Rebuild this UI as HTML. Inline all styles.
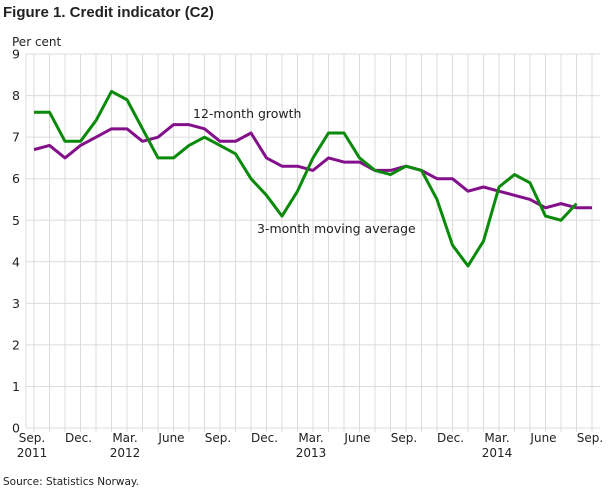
<!DOCTYPE html>
<html><head><meta charset="utf-8"><style>
body{margin:0;background:#fff}
svg text{font-family:"DejaVu Sans","Liberation Sans",sans-serif;fill:#222}
</style></head><body>
<svg width="610" height="488" xmlns="http://www.w3.org/2000/svg">
<text x="3" y="17" font-size="15" font-weight="bold" fill="#222" style="font-family:'Liberation Sans',sans-serif">Figure 1. Credit indicator (C2)</text>
<text x="12" y="46" font-size="12">Per cent</text>
<g id="grid" stroke="#dcdcdc" stroke-width="1"></g>
<g id="ylab" font-size="12.5" text-anchor="middle"></g>
<g id="xlab" font-size="12" text-anchor="middle"></g>
<g id="lines"></g>
<text x="193" y="118" font-size="12.5">12-month growth</text>
<text x="257" y="233" font-size="12.5">3-month moving average</text>
<text x="3" y="485" font-size="10.5">Source: Statistics Norway.</text>
</svg>
<script>
const ns="http://www.w3.org/2000/svg";
const X=i=>34+i*15.5, Y=v=>428-v*41.55;
const g=document.getElementById('grid');
function el(p,t,a,txt){const e=document.createElementNS(ns,t);for(const k in a)e.setAttribute(k,a[k]);if(txt!==undefined)e.textContent=txt;p.appendChild(e);return e;}
for(let v=0;v<=9;v++){el(g,'line',{x1:26,x2:600,y1:Y(v),y2:Y(v)});el(document.getElementById('ylab'),'text',{x:16,y:Y(v)+4.5},v);}
el(g,'line',{x1:26,x2:26,y1:Y(9),y2:428});
for(let i=0;i<=36;i++)el(g,'line',{x1:X(i),x2:X(i),y1:Y(9),y2:432});
const lab=["Sep.","Dec.","Mar.","June","Sep.","Dec.","Mar.","June","Sep.","Dec.","Mar.","June","Sep."];
const yrs={0:"2011",2:"2012",6:"2013",10:"2014"};
const xl=document.getElementById('xlab');
lab.forEach((l,k)=>{const x=X(k*3)-2;el(xl,'text',{x:x,y:442},l);if(yrs[k])el(xl,'text',{x:x,y:457},yrs[k]);});
const green=[7.6,7.6,6.9,6.9,7.4,8.1,7.9,7.2,6.5,6.5,6.8,7.0,6.8,6.6,6.0,5.6,5.1,5.7,6.5,7.1,7.1,6.5,6.2,6.1,6.3,6.2,5.5,4.4,3.9,4.5,5.8,6.1,5.9,5.1,5.0,5.4];
const purple=[6.7,6.8,6.5,6.8,7.0,7.2,7.2,6.9,7.0,7.3,7.3,7.2,6.9,6.9,7.1,6.5,6.3,6.3,6.2,6.5,6.4,6.4,6.2,6.2,6.3,6.2,6.0,6.0,5.7,5.8,5.7,5.6,5.5,5.3,5.4,5.3,5.3];
const L=document.getElementById('lines');
const pts=a=>a.map((v,i)=>X(i)+','+Y(v)).join(' ');
el(L,'polyline',{points:pts(purple),fill:'none',stroke:'#830f8a','stroke-width':3,'stroke-linejoin':'round'});
el(L,'polyline',{points:pts(green),fill:'none',stroke:'#0a8a0a','stroke-width':3,'stroke-linejoin':'round'});
</script>
</body></html>
